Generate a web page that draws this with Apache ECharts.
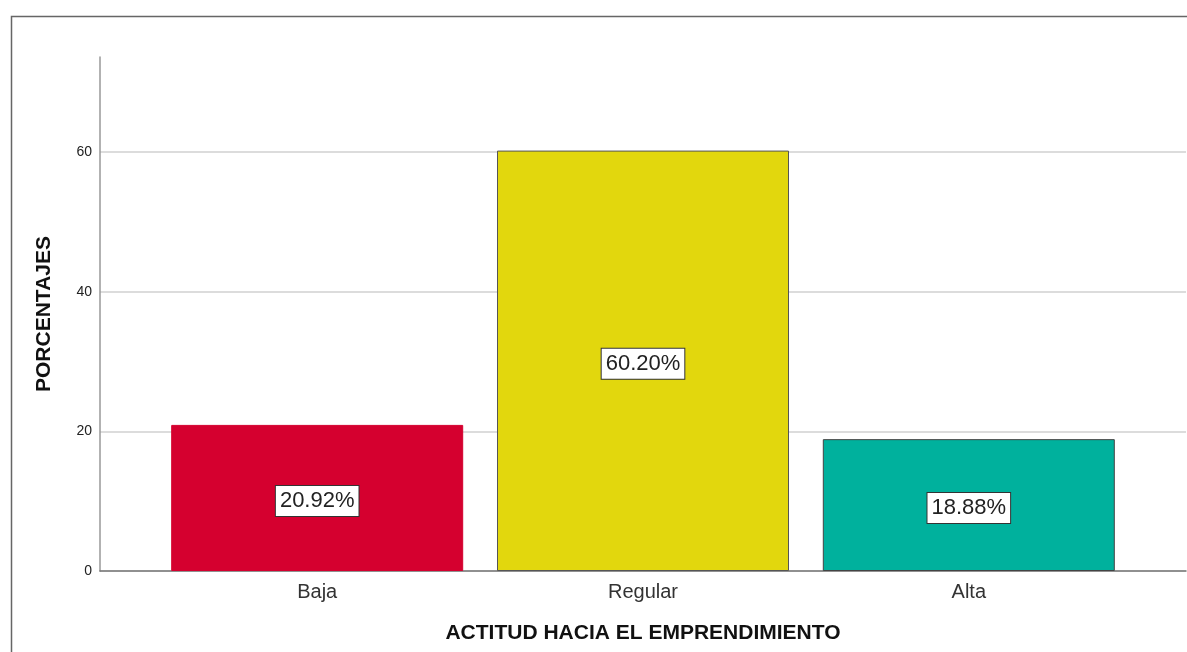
<!DOCTYPE html>
<html>
<head>
    <meta charset="utf-8">
    <title>Actitud hacia el emprendimiento</title>
    <script src="https://cdn.jsdelivr.net/npm/echarts@6/dist/echarts.min.js"></script>
    <style>
        html, body { margin: 0; padding: 0; background: #fff; }
    </style>
</head>
<body>
    <div id="main" style="width: 1187px;height:652px;"></div>
    <script type="text/javascript">
        // datos del gráfico
        var categorias = ['Baja', 'Regular', 'Alta'];
        var porcentajes = [20.92, 60.20, 18.88];
        var colores = ['#d5002f', '#e2d70d', '#00b19d'];
        var bordes = ['#d5002f', '#555', '#444'];
        var yTicks = [0, 20, 40, 60];

        var myChart = echarts.init(document.getElementById('main'));
        var fuente = '"Liberation Sans", Arial, sans-serif';

        var datos = porcentajes.map(function (v, i) {
            return {
                value: [i + 1, v],
                itemStyle: { color: colores[i], borderColor: bordes[i], borderWidth: 1 }
            };
        });

        var option = {
            animation: false,
            textStyle: { fontFamily: fuente },
            graphic: [{
                type: 'rect',
                left: 9, top: 14,
                shape: { width: 1200, height: 660 },
                style: { fill: 'none', stroke: '#666', lineWidth: 1.5 },
                z: 0
            }],
            grid: { left: 100, right: 1, top: 57, bottom: 81, outerBoundsMode: 'none' },
            xAxis: {
                type: 'value',
                min: 1 / 3,
                max: 11 / 3,
                name: 'ACTITUD HACIA EL EMPRENDIMIENTO',
                nameLocation: 'middle',
                nameGap: 52,
                nameTextStyle: { fontSize: 21, fontWeight: 'bold', color: '#111', fontFamily: fuente },
                axisLine: { lineStyle: { color: '#777', width: 1.5 } },
                axisTick: { show: false },
                splitLine: { show: false },
                axisLabel: {
                    customValues: [1, 2, 3],
                    fontSize: 20,
                    color: '#333',
                    margin: 11,
                    formatter: function (v) { return categorias[Math.round(v) - 1] || ''; }
                }
            },
            yAxis: {
                type: 'value',
                min: 0,
                max: 73.6,
                interval: 20,
                name: 'PORCENTAJES',
                nameLocation: 'middle',
                nameGap: 45,
                nameTextStyle: { fontSize: 21, fontWeight: 'bold', color: '#111', fontFamily: fuente },
                axisLine: { show: true, lineStyle: { color: '#999', width: 1.5 } },
                axisTick: { show: false },
                axisLabel: {
                    customValues: yTicks,
                    fontSize: 14,
                    color: '#222',
                    margin: 8
                },
                splitLine: {
                    show: true,
                    showMaxLine: false,
                    lineStyle: { color: '#d0d0d0', width: 1.5 }
                }
            },
            series: [{
                type: 'bar',
                barWidth: 292,
                data: datos,
                label: {
                    show: true,
                    position: 'inside',
                    offset: [0, 3],
                    formatter: function (p) { return p.value[1].toFixed(2) + '%'; },
                    fontSize: 22,
                    color: '#222',
                    backgroundColor: '#fff',
                    borderColor: '#333',
                    borderWidth: 1,
                    padding: [5, 4, 3, 4]
                }
            }]
        };

        myChart.setOption(option);
    </script>
</body>
</html>
